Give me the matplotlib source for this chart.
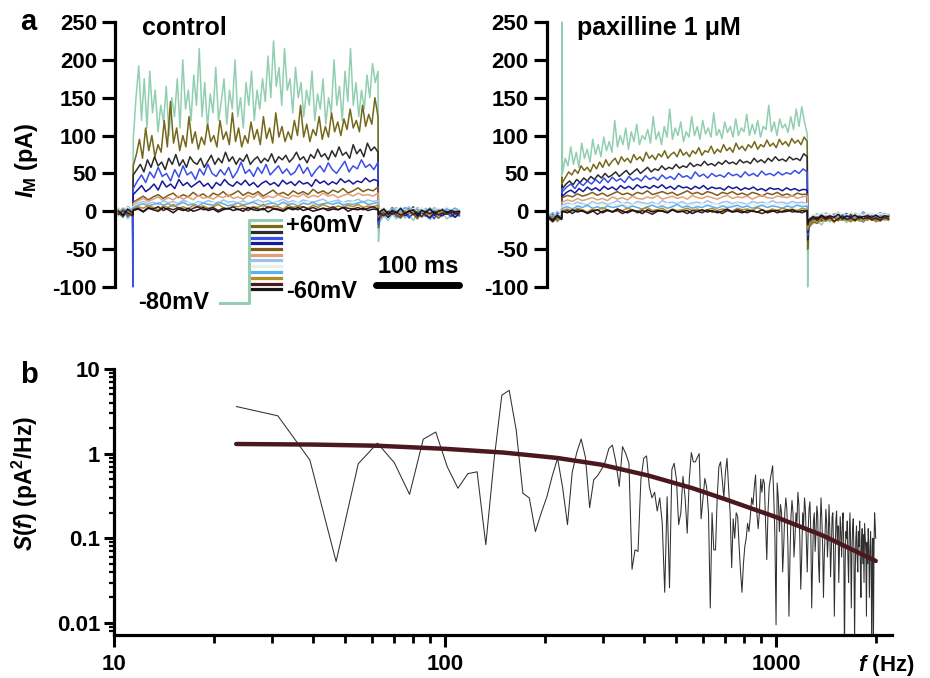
import numpy as np
import matplotlib.pyplot as plt
from matplotlib.lines import Line2D

plt.rcParams['font.family'] = ['Liberation Sans', 'DejaVu Sans']
plt.rcParams['font.weight'] = 'bold'
plt.rcParams['mathtext.fontset'] = 'custom'
plt.rcParams['mathtext.rm'] = 'Liberation Sans:bold'
plt.rcParams['mathtext.it'] = 'Liberation Sans:italic:bold'
plt.rcParams['mathtext.bf'] = 'Liberation Sans:bold'

# ---------------- data ----------------
# step potentials, +60 mV down to -60 mV, and the colour of each trace
steps_mV = [60, 50, 40, 30, 20, 10, 0, -10, -20, -30, -40, -50, -60]
colors = ['#92cfb2', '#75681a', '#2b2b2b', '#3a4fe6', '#18189a', '#7d5c1c', '#e0a078',
          '#9cc2f2', '#e4f1e4', '#5eaef2', '#b48c22', '#4e1a1c', '#161616']

pulse_ms = 295     # step length
post_ms = 393      # end of record

# control traces, each (before step, during step, after step), pA
ctl_p60 = ([-6, 4, -10, -2],
           [95, 150, 192, 120, 175, 110, 185, 130, 160, 105, 140, 118, 165, 100, 150, 125, 175, 110,
            200, 135, 160, 120, 180, 140, 215, 125, 170, 110, 155, 130, 190, 120, 145, 175, 115, 160,
            135, 200, 125, 150, 110, 170, 140, 185, 120, 160, 135, 175, 145, 205, 150, 225, 165, 190,
            140, 215, 160, 175, 130, 190, 150, 170, 125, 160, 140, 185, 120, 155, 135, 175, 115, 150,
            130, 200, 140, 165, 120, 185, 145, 215, 140, 170, 125, 160, 135, 180, 150, 195, 170, 185],
           [-14, -6, -12, -4, -10, -2, -9, -5, -12, -3, -8, -6, -11, -4, -9, -2, -10, -6, -8, -5])
ctl_p50 = ([-2, -8, 3, -5],
           [60, 75, 95, 70, 110, 80, 100, 72, 88, 78, 120, 85, 145, 90, 110, 80, 100, 85, 125, 90,
            105, 82, 98, 88, 115, 92, 100, 85, 120, 95, 105, 88, 130, 92, 110, 85, 100, 90, 118, 95,
            108, 88, 125, 96, 110, 90, 130, 98, 112, 92, 105, 95, 120, 100, 140, 98, 115, 92, 108, 100,
            125, 95, 112, 98, 130, 105, 118, 100, 122, 108, 135, 110, 120, 105, 140, 112, 128, 115, 150, 125],
           [-10, -3, -8, 0, -6, -9, -2, -7, -4, -10, -1, -6, -8, -3, -9, -5, -2, -7, -4, -6])
ctl_p40 = ([2, -4, 6, -1],
           [48, 55, 62, 52, 68, 58, 72, 60, 65, 55, 70, 62, 75, 60, 68, 58, 72, 65, 62, 70, 58, 66,
            74, 62, 70, 64, 78, 66, 72, 62, 70, 66, 75, 62, 68, 72, 64, 70, 66, 76, 64, 72, 68, 74,
            65, 70, 78, 68, 72, 64, 75, 70, 82, 72, 76, 68, 80, 72, 85, 74, 78, 70, 88, 76, 82, 72,
            90, 80, 85, 78],
           [-6, 2, -4, 5, -3, -7, 1, -2, 6, -5, 0, -3, 4, -6, -1, 3, -4, 1, -2, 0])
ctl_p30 = ([-3, 3, -7, 0],
           [30, 40, 48, 38, 52, 44, 58, 46, 50, 40, 55, 45, 60, 48, 52, 42, 56, 48, 62, 50, 46, 55,
            48, 58, 44, 52, 65, 50, 55, 46, 58, 50, 62, 48, 54, 60, 50, 56, 48, 52, 62, 50, 58, 46,
            54, 60, 52, 64, 55, 50, 58, 66, 52, 60, 56, 68, 58, 62, 55, 65],
           [-8, -1, -5, 2, -7, -3, 0, -9, -2, -5, 1, -6, -3, -10, -1, -4, 0, -7, -2, -5])
ctl_p20 = ([0, -6, 2, -3],
           [22, 28, 34, 26, 30, 36, 28, 40, 32, 36, 30, 42, 34, 38, 32, 36, 40, 33, 37, 30, 38, 34,
            42, 36, 33, 39, 35, 41, 34, 38, 32, 37, 40, 35, 38, 33, 41, 36, 39, 34, 40, 36, 38, 33,
            42, 37, 40, 35, 39, 36, 43, 38, 41, 36, 40, 38, 44, 39, 42, 40],
           [-5, 0, -8, -2, -4, 1, -6, -3, 0, -7, -2, -5, -9, -1, -4, -6, 0, -3, -8, -2])
ctl_p10 = ([-1, 3, -4, 1],
           [12, 16, 20, 15, 19, 22, 17, 21, 24, 18, 22, 19, 25, 20, 23, 18, 24, 21, 26, 20, 23, 27,
            21, 25, 22, 26, 20, 24, 28, 22, 25, 21, 27, 23, 26, 22, 29, 24, 27, 23, 28, 25, 30, 24,
            27, 31, 26, 29, 27, 32],
           [-4, 1, -2, 3, -5, 0, -1, 4, -3, 0, 2, -4, 1, -2, 3, -1, -3, 2, 0, -2])
ctl_0 = ([1, -3, 4, -2],
         [10, 14, 17, 13, 16, 19, 14, 18, 15, 20, 16, 19, 15, 21, 17, 19, 16, 20, 18, 22, 17, 19,
          16, 21, 18, 23, 17, 20, 18, 22, 19, 17, 21, 19, 23, 18, 21, 19, 24, 20, 22, 18, 21, 23,
          20, 24, 21, 22, 20, 24],
         [-2, 2, -1, 4, 0, -3, 3, 1, -2, 5, 0, 2, -1, 3, -2, 1, 4, -1, 2, 0])
ctl_m10 = ([4, -1, 6, 2],
           [7, 11, 13, 10, 12, 9, 14, 11, 13, 10, 15, 12, 9, 13, 11, 14, 12, 10, 15, 12, 13, 11, 14,
            10, 13, 15, 12, 14, 11, 13, 16, 12, 14, 11, 15, 13, 12, 14, 16, 12, 13, 15, 11, 14, 13,
            16, 12, 15, 13, 14],
           [1, 4, -1, 3, 5, 0, 2, 6, -1, 3, 1, 4, 0, 5, 2, -1, 3, 1, 4, 2])
ctl_m20 = ([3, 0, 5, -2],
           [6, 9, 11, 8, 10, 7, 12, 9, 11, 8, 10, 12, 9, 11, 7, 10, 12, 9, 11, 10, 8, 12, 10, 11, 9,
            13, 10, 8, 11, 12, 10, 9, 12, 11, 10, 13, 9, 11, 10, 12, 11, 9, 12, 10, 13, 11, 10, 12,
            11, 12],
           [2, 5, 0, 3, 1, 6, 2, -1, 4, 2, 5, 0, 3, 1, 4, 2, 6, 1, 3, 2])
ctl_m30 = ([-2, 4, 0, 3],
           [5, 8, 10, 7, 9, 11, 8, 10, 6, 9, 12, 8, 10, 7, 11, 9, 8, 12, 10, 7, 9, 11, 8, 10, 12, 9,
            7, 10, 11, 8, 12, 9, 10, 7, 11, 9, 12, 8, 10, 11, 9, 12, 8, 10, 9, 11, 13, 9, 10, 12],
           [0, 3, -2, 4, 1, -1, 5, 2, 0, 3, -2, 1, 4, 0, 2, -1, 3, 1, 4, 0])
ctl_m40 = ([2, -3, 1, -5],
           [3, 6, 4, 8, 5, 2, 7, 5, 9, 4, 6, 3, 8, 5, 7, 4, 6, 9, 5, 3, 7, 6, 8, 4, 6, 5, 9, 4, 7, 6,
            3, 8, 5, 7, 6, 4, 8, 5, 9, 6, 4, 7, 5, 8, 6, 9, 5, 7, 6, 8],
           [-3, 0, -5, 2, -2, -6, 1, -3, -1, -4, 2, -2, -5, 0, -3, 1, -4, -1, -2, 0])
ctl_m50 = ([-4, 1, -2, -6],
           [2, 4, 0, 5, 3, 6, 1, 4, 2, 5, 3, 0, 4, 6, 2, 3, 5, 1, 4, 3, 6, 2, 4, 1, 5, 3, 2, 6, 4, 3,
            1, 5, 4, 2, 6, 3, 5, 2, 4, 3, 6, 2, 5, 4, 3, 5, 2, 4, 6, 3],
           [-2, -6, 0, -4, -1, -5, -3, 1, -4, -2, -7, -1, -3, 0, -5, -2, -4, -1, -3, -2])
ctl_m60 = ([0, -5, 3, -2],
           [1, 3, -1, 4, 2, 0, 5, 2, -2, 3, 1, 4, 0, 2, 5, 1, 3, -1, 2, 4, 1, 3, 0, 5, 2, 1, 4, -1, 3,
            2, 0, 4, 2, 5, 1, 3, 0, 2, 4, 1, 3, 2, 5, 0, 3, 2, 4, 1, 3, 2],
           [-1, 3, -4, 1, -2, 4, -3, 0, 2, -5, 1, -1, 3, -3, 0, 2, -2, 1, -1, 0])
# capacitive transients at step on / off, pA
ctl_on = [-5, -52, -5, -100, -5, -5, -5, -5, -5, -5, -5, -5, -5]
ctl_off = [-40, -22, -15, -18, -12, -8, -6, -5, -4, -4, -6, -5, -4]

# paxilline traces
pax_p60 = ([-10, -4, -14, -8],
           [50, 70, 60, 85, 62, 78, 58, 90, 70, 82, 65, 95, 75, 88, 72, 98, 80, 92, 78, 120, 85, 100,
            88, 110, 82, 105, 92, 115, 88, 100, 95, 108, 90, 125, 95, 105, 88, 112, 98, 135, 95, 110,
            100, 118, 92, 105, 98, 125, 100, 112, 95, 120, 102, 110, 98, 130, 100, 108, 96, 118, 104,
            112, 98, 122, 100, 110, 105, 128, 100, 115, 102, 120, 98, 112, 108, 140, 105, 118, 100,
            122, 110, 115, 104, 125, 108, 135, 112, 138, 118, 102],
           [-22, -16, -12, -18, -10, -14, -8, -13, -9, -15, -7, -12, -10, -14, -8, -11, -13, -7, -12, -10])
pax_p50 = ([-6, -12, -3, -9],
           [38, 45, 52, 48, 55, 50, 60, 54, 58, 52, 62, 56, 65, 58, 68, 60, 66, 70, 62, 72, 66, 70,
            64, 75, 68, 72, 66, 78, 70, 74, 68, 76, 72, 80, 70, 75, 78, 72, 82, 74, 78, 72, 80, 76,
            84, 74, 80, 78, 86, 76, 82, 78, 88, 80, 84, 78, 90, 82, 86, 80, 88, 84, 92, 82, 88, 85,
            94, 86, 90, 84, 95, 88, 92, 86, 96, 90, 94, 88, 98, 92],
           [-20, -14, -16, -9, -13, -8, -14, -10, -12, -7, -13, -9, -11, -14, -8, -12, -10, -13, -9, -11])
pax_p40 = ([-8, -3, -11, -6],
           [30, 36, 40, 35, 42, 38, 44, 40, 46, 42, 48, 44, 50, 45, 48, 52, 46, 50, 54, 48, 52, 56,
            50, 54, 58, 52, 56, 54, 60, 55, 58, 56, 62, 57, 60, 58, 64, 59, 62, 60, 66, 61, 63, 60,
            65, 62, 67, 63, 65, 62, 68, 64, 66, 63, 70, 65, 68, 64, 70, 66, 72, 67, 69, 66, 72, 68,
            70, 67, 76, 72],
           [-18, -12, -8, -13, -6, -10, -5, -11, -7, -9, -4, -10, -8, -6, -11, -5, -9, -7, -10, -6])
pax_p30 = ([-5, -10, -2, -8],
           [26, 32, 36, 30, 38, 34, 40, 36, 42, 37, 44, 38, 45, 40, 43, 38, 46, 41, 44, 40, 47, 42,
            45, 41, 48, 43, 46, 42, 50, 45, 47, 43, 52, 46, 49, 44, 50, 46, 48, 45, 51, 47, 49, 45,
            52, 47, 50, 46, 53, 48, 50, 47, 52, 48, 51, 49, 54, 50, 56, 52],
           [-16, -10, -6, -9, -3, -8, -5, -2, -7, -4, -9, -3, -6, -1, -8, -4, -6, -2, -5, -4])
pax_p20 = ([-9, -4, -12, -7],
           [20, 25, 28, 24, 30, 26, 32, 28, 31, 27, 33, 29, 32, 28, 34, 30, 33, 29, 35, 31, 33, 30,
            34, 31, 35, 30, 33, 29, 34, 31, 32, 29, 33, 30, 34, 29, 32, 30, 31, 28, 33, 30, 32, 28,
            31, 29, 32, 28, 30, 27, 31, 29, 30, 27, 31, 28, 30, 27, 29, 28],
           [-15, -9, -7, -11, -5, -8, -4, -9, -6, -3, -8, -5, -7, -2, -9, -4, -6, -8, -3, -6])
pax_p10 = ([-7, -11, -4, -9],
           [18, 21, 19, 23, 20, 22, 25, 21, 24, 20, 23, 26, 22, 24, 21, 25, 23, 27, 22, 24, 26, 23,
            25, 21, 24, 27, 23, 25, 22, 26, 24, 21, 25, 23, 26, 22, 24, 21, 25, 23, 20, 24, 22, 25,
            21, 23, 20, 24, 22, 23],
           [-16, -12, -9, -13, -7, -11, -8, -12, -6, -10, -9, -13, -7, -11, -8, -10, -12, -7, -10, -9])
pax_0 = ([-6, -2, -9, -5],
         [12, 15, 13, 17, 14, 16, 18, 15, 17, 14, 19, 16, 18, 15, 20, 17, 16, 19, 17, 21, 16, 18,
          20, 17, 19, 16, 21, 18, 17, 20, 18, 16, 19, 21, 17, 19, 18, 20, 16, 19, 21, 18, 17, 20,
          19, 18, 21, 17, 19, 20],
         [-12, -8, -5, -9, -4, -7, -3, -8, -5, -6, -2, -7, -4, -6, -3, -8, -5, -4, -6, -5])
pax_m10 = ([-3, -7, 0, -5],
           [8, 11, 9, 12, 10, 8, 13, 10, 12, 9, 11, 14, 10, 12, 9, 13, 11, 10, 12, 9, 14, 11, 12, 10,
            13, 9, 11, 12, 10, 14, 11, 9, 12, 13, 10, 12, 11, 9, 13, 11, 12, 10, 14, 11, 12, 10, 13,
            11, 12, 10],
           [-10, -6, -3, -8, -2, -5, -7, -1, -6, -4, -9, -3, -5, -2, -7, -4, -6, -3, -5, -4])
pax_m20 = ([-4, -1, -6, -3],
           [6, 8, 10, 7, 9, 6, 11, 8, 9, 7, 10, 8, 11, 7, 9, 10, 8, 6, 10, 9, 8, 11, 7, 9, 10, 8, 9,
            7, 11, 8, 10, 9, 7, 10, 8, 11, 9, 8, 10, 7, 9, 11, 8, 10, 9, 7, 10, 8, 9, 10],
           [-8, -4, -6, -2, -5, -3, -7, -2, -4, -6, -1, -5, -3, -6, -2, -4, -5, -3, -4, -3])
pax_m30 = ([-8, -2, -10, -5],
           [4, 6, 3, 7, 5, 8, 4, 6, 3, 7, 5, 6, 8, 4, 7, 5, 3, 6, 8, 5, 7, 4, 6, 9, 5, 7, 4, 6, 5, 8,
            6, 4, 7, 5, 6, 8, 5, 7, 4, 6, 8, 5, 7, 6, 4, 7, 5, 8, 6, 7],
           [-14, -8, -11, -5, -9, -12, -6, -10, -4, -8, -11, -6, -9, -13, -5, -8, -10, -6, -9, -7])
pax_m40 = ([-11, -6, -13, -8],
           [1, 3, 0, 4, 2, -1, 3, 1, 5, 2, 0, 3, 1, 4, 2, 0, 3, 5, 1, 2, 4, 0, 3, 1, 2, 4, 1, 3, 0, 2,
            4, 1, 3, 2, 0, 4, 2, 3, 1, 5, 2, 0, 3, 1, 4, 2, 3, 1, 4, 2],
           [-18, -12, -14, -9, -13, -10, -15, -8, -12, -11, -14, -9, -13, -10, -12, -8, -14, -11, -10, -12])
pax_m50 = ([-9, -14, -7, -11],
           [-1, 1, -3, 2, 0, -2, 1, -4, 0, 2, -1, 1, -3, 0, 2, -2, 1, -1, -4, 0, 1, -2, 2, -1, 0, -3,
            1, 0, -2, 2, -1, 0, -3, 1, -1, 2, 0, -2, 1, -1, -3, 0, 1, -2, 0, 2, -1, 0, -2, 1],
           [-13, -9, -12, -7, -11, -8, -13, -10, -6, -11, -9, -12, -7, -10, -8, -11, -9, -12, -8, -10])
pax_m60 = ([-7, -12, -5, -10],
           [0, -2, 2, -1, 1, -3, 0, 2, -2, 1, -1, 3, 0, -2, 1, 0, -3, 2, -1, 1, 0, -2, 2, -1, 0, 1,
            -3, 0, 2, -1, 1, -2, 0, 3, -1, 0, -2, 1, 0, -1, 2, -2, 0, 1, -1, 0, 2, -1, 1, 0],
           [-11, -7, -10, -5, -9, -6, -8, -4, -10, -6, -8, -5, -9, -7, -6, -8, -5, -9, -6, -7])
pax_on = [250, 45, 35, 30, 22, 18, 12, 8, 6, 4, 1, -1, 0]
pax_off = [-100, -50, -38, -32, -28, -25, -22, -18, -15, -20, -22, -18, -15]

ctl_traces = [ctl_p60, ctl_p50, ctl_p40, ctl_p30, ctl_p20, ctl_p10, ctl_0,
              ctl_m10, ctl_m20, ctl_m30, ctl_m40, ctl_m50, ctl_m60]
pax_traces = [pax_p60, pax_p50, pax_p40, pax_p30, pax_p20, pax_p10, pax_0,
              pax_m10, pax_m20, pax_m30, pax_m40, pax_m50, pax_m60]

# power spectrum, 1000/128 Hz bins from bin 3 up to 2000 Hz, pA^2/Hz
spec_vals = [3.6, 2.8, 0.84, 0.053, 0.76, 1.33, 0.78, 0.33, 1.48, 1.8,
             0.70, 0.39, 0.58, 0.61, 0.084, 0.84, 4.9, 5.6, 1.9, 0.34,
             0.30, 0.12, 0.2, 0.31, 0.55, 0.88, 0.4, 0.145, 0.6, 1.03,
             1.49, 0.9, 0.23, 0.49, 0.55, 0.65, 0.8, 1.15, 1.26, 0.8,
             0.41, 1.21, 1.0, 0.77, 0.043, 0.073, 0.07, 0.5, 0.88, 0.94,
             0.41, 0.3, 0.35, 0.21, 0.3, 0.15, 0.023, 0.31, 0.026, 0.65,
             0.77, 0.5, 0.145, 0.2, 0.54, 0.3, 0.115, 0.5, 1.03, 0.8,
             0.8, 0.9, 1.0, 0.17, 0.3, 0.51, 0.4, 0.2, 0.015, 0.2,
             0.073, 0.073, 0.3, 0.70, 0.8, 0.5, 0.3, 0.6, 0.88, 0.4,
             0.2, 0.045, 0.17, 0.1, 0.2, 0.18, 0.08, 0.04, 0.023, 0.05,
             0.08, 0.1, 0.15, 0.12, 0.18, 0.3, 0.25, 0.4, 0.56, 0.2,
             0.13, 0.2, 0.5, 0.35, 0.5, 0.45, 0.15, 0.056, 0.2, 0.4,
             0.5, 0.6, 0.72, 0.3, 0.1, 0.0095,
             0.45, 0.3, 0.12, 0.25, 0.2, 0.04, 0.08, 0.2, 0.3, 0.22, 0.08, 0.012, 0.06, 0.18, 0.28, 0.2,
             0.06, 0.1, 0.2, 0.15, 0.35, 0.25, 0.1, 0.025, 0.06, 0.2, 0.14, 0.3, 0.22, 0.09, 0.04, 0.12,
             0.22, 0.27, 0.12, 0.015, 0.05, 0.16, 0.2, 0.07, 0.12, 0.24, 0.19, 0.05, 0.03, 0.14, 0.3, 0.17,
             0.08, 0.02, 0.06, 0.12, 0.22, 0.15, 0.06, 0.1, 0.25, 0.13, 0.035, 0.07, 0.18, 0.2, 0.07, 0.012,
             0.05, 0.16, 0.21, 0.09, 0.14, 0.03, 0.07, 0.18, 0.11, 0.06, 0.15, 0.2, 0.08, 0.004, 0.05, 0.12,
             0.1, 0.16, 0.06, 0.03, 0.11, 0.2, 0.09, 0.015, 0.07, 0.13, 0.17, 0.07, 0.006, 0.04, 0.1, 0.14,
             0.06, 0.04, 0.12, 0.08, 0.16, 0.05, 0.02, 0.09, 0.13, 0.05, 0.11, 0.03, 0.15, 0.1, 0.07, 0.012,
             0.09, 0.05, 0.13, 0.08, 0.02, 0.06, 0.12, 0.07, 0.004, 0.05, 0.1, 0.006, 0.08, 0.2, 0.15, 0.1]
spec_f = np.arange(3, 3 + len(spec_vals)) * 1000 / 128

# Lorentzian fit
fit_f = [23.4, 40, 62.5, 100, 150, 218, 297, 412, 560, 710, 1000, 1390, 2000]
fit_s = [1.30, 1.28, 1.24, 1.14, 1.03, 0.89, 0.74, 0.55, 0.39, 0.285, 0.178, 0.107, 0.054]

# ---------------- figure ----------------
W, H = 930, 678
fig = plt.figure(figsize=(9.3, 6.78), dpi=100)


def box(l, t, r, b):
    return [l / W, 1 - b / H, (r - l) / W, (b - t) / H]


def fx(x):
    return x / W


def fy(y):
    return 1 - y / H


ax1 = fig.add_axes(box(115, 20.5, 461, 288.5))
ax2 = fig.add_axes(box(546.7, 20.5, 892.7, 288.5))
axb = fig.add_axes(box(114, 369, 892, 635))


def draw_traces(ax, traces, v_on, v_off, t_start):
    for (pre, pulse, post), a, b, c in zip(traces, v_on, v_off, colors):
        t = np.concatenate([np.linspace(t_start, -1, len(pre)), [-0.5],
                            np.linspace(0, pulse_ms, len(pulse)), [pulse_ms + 0.5],
                            np.linspace(pulse_ms + 2, post_ms, len(post))])
        y = np.concatenate([pre, [a], pulse, [b], post])
        ax.plot(t, y, color=c, lw=1.1, clip_on=False)


draw_traces(ax1, ctl_traces, ctl_on, ctl_off, -18)
draw_traces(ax2, pax_traces, pax_on, pax_off, -17)

yt = [-100, -50, 0, 50, 100, 150, 200, 250]
for ax in (ax1, ax2):
    ax.set_ylim(-102, 252)
    for s in ('top', 'right', 'bottom'):
        ax.spines[s].set_visible(False)
    ax.spines['left'].set_bounds(-100, 250)
    ax.spines['left'].set_linewidth(2.3)
    ax.set_yticks(yt)
    ax.set_yticklabels([str(v) for v in yt])
    ax.tick_params(axis='y', length=9.5, width=2.3, labelsize=16, pad=3.5)
    ax.set_xticks([])
    ax.patch.set_visible(False)
ax1.set_xlim(-22, 395)
ax2.set_xlim(-19, 398)

# 100 ms scale bar
ax1.plot([293, 393], [-97.5, -97.5], color='black', lw=5, solid_capstyle='round', clip_on=False)
ax1.text(343, -82, '100 ms', ha='center', va='baseline', fontsize=17)

# voltage protocol key
fig.add_artist(Line2D([fx(220), fx(249), fx(249), fx(281)], [fy(303), fy(303), fy(220), fy(220)],
                      color=colors[0], lw=2.2))
for i, c in enumerate(colors[1:]):
    yy = 226 + i * 5.75
    fig.add_artist(Line2D([fx(252), fx(281)], [fy(yy), fy(yy)], color=c, lw=2.3))
fig.text(fx(286), fy(225), '+60mV', va='center', ha='left', fontsize=17)
fig.text(fx(286), fy(291), '-60mV', va='center', ha='left', fontsize=17)
fig.text(fx(138), fy(303), '-80mV', va='center', ha='left', fontsize=17)

fig.text(fx(142), fy(35), 'control', fontsize=18, va='baseline')
fig.text(fx(577), fy(35), 'paxilline 1 \u03bcM', fontsize=18, va='baseline')
fig.text(fx(20), fy(30), 'a', fontsize=21, va='baseline')
fig.text(fx(20), fy(383), 'b', fontsize=21, va='baseline')
fig.text(fx(27), fy(160), r'$I_{\mathrm{M}}$ (pA)', rotation=90, ha='center', va='center', fontsize=17)

# panel b
axb.plot(spec_f, spec_vals, color='#303030', lw=0.75)
axb.plot(fit_f, fit_s, color='#4b1820', lw=3.2, solid_capstyle='round')
axb.set_xscale('log')
axb.set_yscale('log')
axb.set_xlim(10, 2240)
axb.set_ylim(0.0072, 10)
for s in ('top', 'right'):
    axb.spines[s].set_visible(False)
for s in ('left', 'bottom'):
    axb.spines[s].set_linewidth(2.3)
axb.set_xticks([10, 100, 1000])
axb.set_xticklabels(['10', '100', '1000'])
axb.set_xticks([20, 30, 40, 50, 60, 70, 80, 90, 200, 300, 400, 500, 600, 700, 800, 900, 2000], minor=True)
axb.set_xticklabels([], minor=True)
axb.set_yticks([0.01, 0.1, 1, 10])
axb.set_yticklabels(['0.01', '0.1', '1', '10'])
ymin = [0.008, 0.009] + [m * 10.0 ** e for e in (-2, -1, 0) for m in range(2, 10)]
axb.set_yticks(ymin, minor=True)
axb.set_yticklabels([], minor=True)
axb.tick_params(axis='x', which='major', length=8.5, width=2.2, labelsize=16, pad=5)
axb.tick_params(axis='x', which='minor', length=5.5, width=2.0)
axb.tick_params(axis='y', which='major', length=7, width=2.2, labelsize=16, pad=3)
axb.tick_params(axis='y', which='minor', length=3.6, width=1.6)
fig.text(fx(25), fy(483), r'$S$($f$) (pA$^{2}$/Hz)', rotation=90, ha='center', va='center', fontsize=16.5)
fig.text(fx(886), fy(665), r'$f$ (Hz)', ha='center', va='center', fontsize=16)

fig.savefig('out.png', dpi=100)
